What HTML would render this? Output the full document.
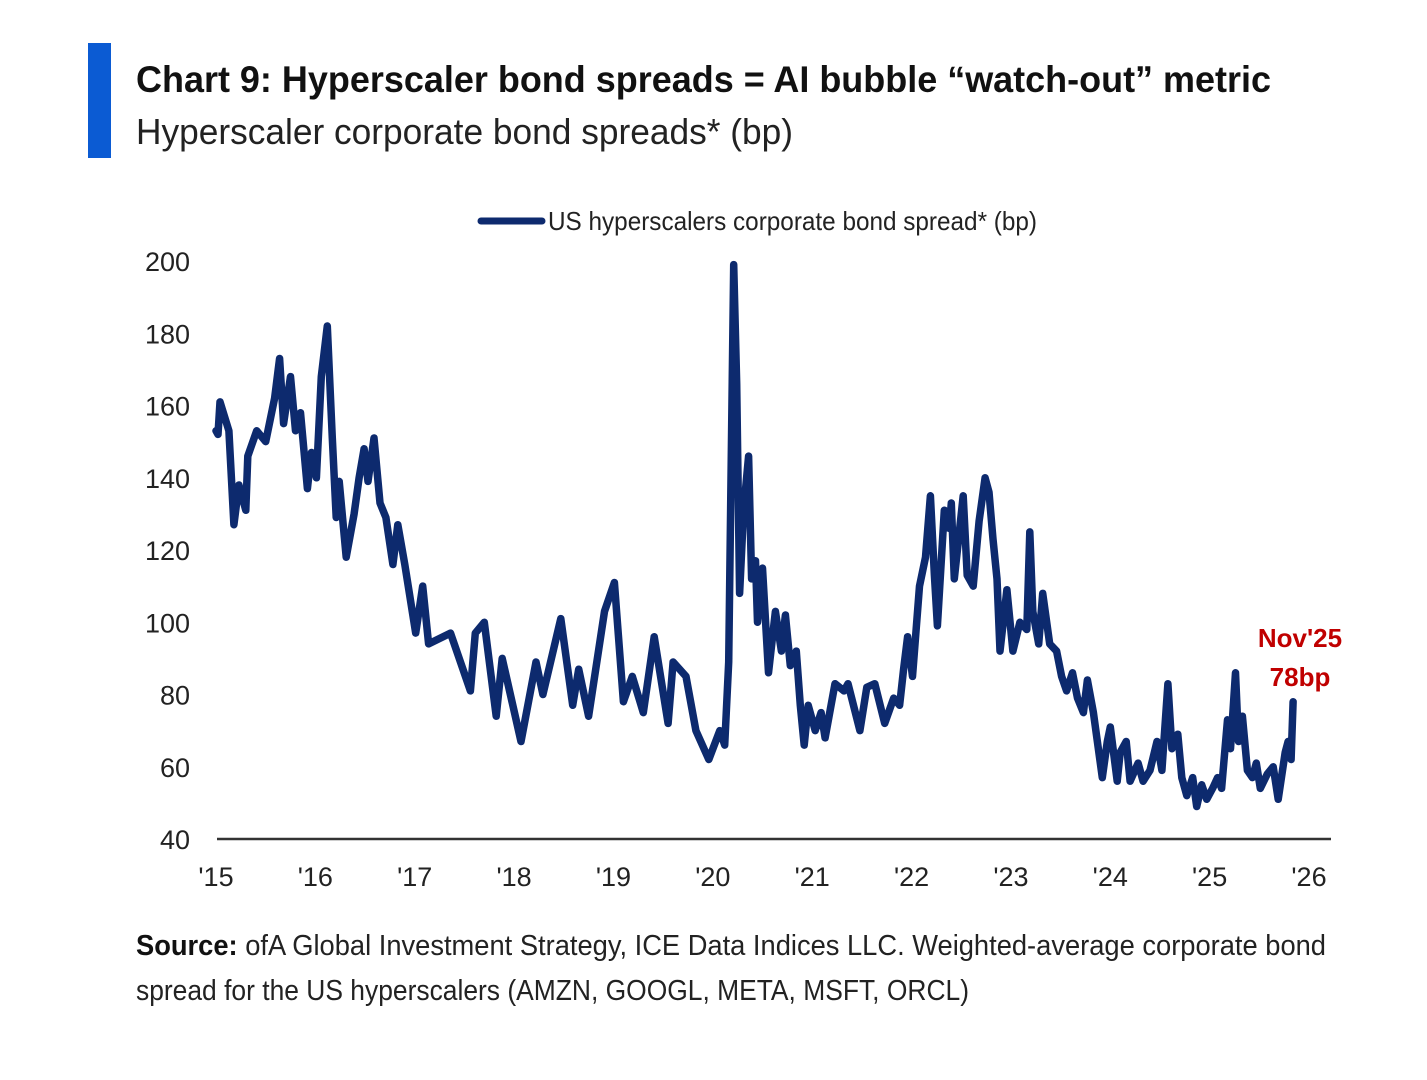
<!DOCTYPE html>
<html><head><meta charset="utf-8"><style>
html,body{margin:0;padding:0;background:#fff;width:1427px;height:1080px;overflow:hidden}
svg{display:block}
text{font-family:"Liberation Sans",sans-serif}
</style></head><body>
<svg id="chart" width="1427" height="1080" viewBox="0 0 1427 1080" xmlns="http://www.w3.org/2000/svg">
<rect x="88" y="43" width="23" height="115" fill="#0b5bd3"/>
<text x="136" y="92" font-size="37" font-weight="bold" fill="#111" textLength="1135" lengthAdjust="spacingAndGlyphs">Chart 9: Hyperscaler bond spreads = AI bubble “watch-out” metric</text>
<text x="136" y="144" font-size="36" fill="#222" textLength="657" lengthAdjust="spacingAndGlyphs">Hyperscaler corporate bond spreads* (bp)</text>
<line x1="481" y1="221" x2="542" y2="221" stroke="#0d2a6e" stroke-width="7" stroke-linecap="round"/>
<text x="548" y="230" font-size="26" fill="#222" textLength="489" lengthAdjust="spacingAndGlyphs">US hyperscalers corporate bond spread* (bp)</text>
<g id="yticks"></g>
<g id="xticks"></g>
<line x1="217" y1="839" x2="1331" y2="839" stroke="#333" stroke-width="2.5"/>
<path id="series" fill="none" stroke="#0d2a6e" stroke-width="7.5" stroke-linejoin="round" stroke-linecap="round"/>
<text x="1300" y="647" font-size="26" font-weight="bold" fill="#c00000" text-anchor="middle">Nov'25</text>
<text x="1300" y="686" font-size="26" font-weight="bold" fill="#c00000" text-anchor="middle">78bp</text>
<text x="136" y="955" font-size="29" fill="#222" textLength="1190" lengthAdjust="spacingAndGlyphs"><tspan font-weight="bold" fill="#111">Source:</tspan> ofA Global Investment Strategy, ICE Data Indices LLC. Weighted-average corporate bond</text>
<text x="136" y="1000" font-size="29" fill="#222" textLength="833" lengthAdjust="spacingAndGlyphs">spread for the US hyperscalers (AMZN, GOOGL, META, MSFT, ORCL)</text>
</svg>
<script>
const yTickValues=[40,60,80,100,120,140,160,180,200];
const xTickYears=[2015,2016,2017,2018,2019,2020,2021,2022,2023,2024,2025,2026];
const xTickLabels=["'15","'16","'17","'18","'19","'20","'21","'22","'23","'24","'25","'26"];
const dates=[2015.0,2015.02,2015.04,2015.13,2015.18,2015.23,2015.30,2015.32,2015.41,2015.50,2015.59,2015.64,2015.68,2015.75,2015.80,2015.85,2015.92,2015.96,2016.01,2016.06,2016.12,2016.17,2016.21,2016.24,2016.31,2016.39,2016.44,2016.49,2016.53,2016.59,2016.65,2016.71,2016.78,2016.83,2016.90,2017.01,2017.08,2017.14,2017.36,2017.56,2017.61,2017.70,2017.82,2017.88,2018.07,2018.22,2018.29,2018.47,2018.59,2018.65,2018.75,2018.91,2019.01,2019.10,2019.19,2019.30,2019.41,2019.55,2019.60,2019.73,2019.83,2019.96,2020.07,2020.12,2020.16,2020.21,2020.24,2020.27,2020.31,2020.36,2020.39,2020.43,2020.45,2020.50,2020.56,2020.63,2020.69,2020.73,2020.78,2020.84,2020.88,2020.92,2020.96,2021.03,2021.09,2021.13,2021.23,2021.32,2021.36,2021.48,2021.55,2021.63,2021.73,2021.82,2021.88,2021.92,2021.96,2022.01,2022.08,2022.14,2022.19,2022.23,2022.26,2022.33,2022.38,2022.40,2022.43,2022.52,2022.56,2022.62,2022.68,2022.74,2022.78,2022.82,2022.86,2022.89,2022.96,2023.02,2023.09,2023.16,2023.19,2023.22,2023.28,2023.32,2023.39,2023.46,2023.51,2023.56,2023.62,2023.67,2023.73,2023.77,2023.83,2023.92,2023.97,2024.00,2024.07,2024.10,2024.16,2024.20,2024.28,2024.33,2024.40,2024.47,2024.52,2024.58,2024.62,2024.68,2024.72,2024.77,2024.83,2024.87,2024.92,2024.97,2025.03,2025.08,2025.12,2025.18,2025.21,2025.26,2025.29,2025.33,2025.38,2025.43,2025.47,2025.51,2025.58,2025.64,2025.69,2025.76,2025.79,2025.82,2025.84];
const spreads=[153,152,161,153,127,138,131,146,153,150,162,173,155,168,153,158,137,147,140,168,182,151,129,139,118,130,140,148,139,151,133,129,116,127,116,97,110,94,97,81,97,100,74,90,67,89,80,101,77,87,74,103,111,78,85,75,96,72,89,85,70,62,70,66,89,199,166,108,131,146,112,117,100,115,86,103,92,102,88,92,77,66,77,70,75,68,83,81,83,70,82,83,72,79,77,87,96,85,110,118,135,113,99,131,126,133,112,135,113,110,128,140,136,123,112,92,109,92,100,98,125,103,94,108,94,92,85,81,86,79,75,84,75,57,67,71,56,64,67,56,61,56,59,67,59,83,65,69,57,52,57,49,55,51,54,57,54,73,65,86,67,74,59,57,61,54,58,60,51,64,67,62,78];
const X0=216,X1=1309,Y0=839,Y1=261;
function xs(t){return X0+(t-2015)/(2026-2015)*(X1-X0);}
function ys(v){return Y0-(v-40)/(200-40)*(Y0-Y1);}
const NS='http://www.w3.org/2000/svg';
const yg=document.getElementById('yticks');
yTickValues.forEach(v=>{
  const t=document.createElementNS(NS,'text');
  
  
  t.setAttribute('x',190);t.setAttribute('y',ys(v)+10);
  t.setAttribute('font-size','27');t.setAttribute('fill','#222');t.setAttribute('text-anchor','end');
  t.textContent=v;yg.appendChild(t);
});
const xg=document.getElementById('xticks');
xTickYears.forEach((yr,i)=>{
  const t=document.createElementNS(NS,'text');
  
  
  t.setAttribute('x',xs(yr));t.setAttribute('y',886);
  t.setAttribute('font-size','27');t.setAttribute('fill','#222');t.setAttribute('text-anchor','middle');
  t.textContent=xTickLabels[i];xg.appendChild(t);
});
let d='';
dates.forEach((t,i)=>{d+=(i?'L':'M')+xs(t).toFixed(1)+' '+ys(spreads[i]).toFixed(1);});
document.getElementById('series').setAttribute('d',d);
</script>
</body></html>
